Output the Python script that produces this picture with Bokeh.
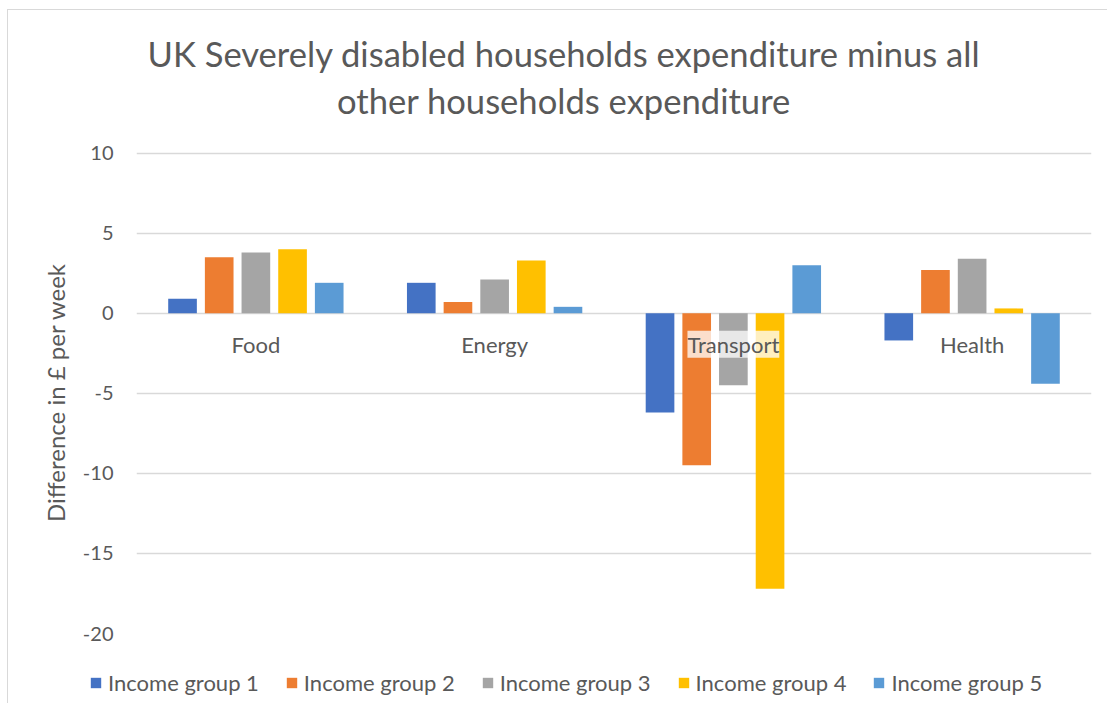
from bokeh.plotting import figure
from bokeh.layouts import column
from bokeh.models import (ColumnDataSource, Range1d, FactorRange, Legend, LegendItem,
                          LabelSet, Label, FixedTicker, PrintfTickFormatter)
from bokeh.transform import dodge
from bokeh.core.properties import value
from bokeh.embed import file_html
from bokeh.resources import INLINE

# ---- data ----
categories = ["Food", "Energy", "Transport", "Health"]
group_names = ["Income group 1", "Income group 2", "Income group 3",
               "Income group 4", "Income group 5"]
group1 = [0.9, 1.9, -6.2, -1.7]
group2 = [3.5, 0.7, -9.5, 2.7]
group3 = [3.8, 2.1, -4.5, 3.4]
group4 = [4.0, 3.3, -17.2, 0.3]
group5 = [1.9, 0.4, 3.0, -4.4]
y_ticks = [-20, -15, -10, -5, 0, 5, 10]
title_lines = ["UK Severely disabled households expenditure minus all",
               "other households expenditure"]
y_label = "Difference in £ per week"

colors = ["#4472C4", "#ED7D31", "#A5A5A5", "#FFC000", "#5B9BD5"]
FONT = "Lato"
TXT = "#595959"

series = [group1, group2, group3, group4, group5]
data = {"cat": categories, "zero": [0] * len(categories)}
for i, s in enumerate(series):
    data[f"g{i+1}"] = s
source = ColumnDataSource(data)

W = 1099
LEFT = 128

# ---- title strip ----
tf = figure(width=W, height=130, output_backend="svg", toolbar_location=None,
            min_border=0, min_border_left=LEFT, min_border_right=16,
            x_range=Range1d(0, 1), y_range=Range1d(0, 1), title=None)
tf.axis.visible = False
tf.grid.visible = False
tf.outline_line_color = None
tf.background_fill_alpha = 0
tf.border_fill_alpha = 0
for line, y in zip(title_lines, [87.5, 40.5]):
    tf.add_layout(Label(x=427.5, y=y, x_units="screen", y_units="screen", text=line,
                        text_align="center", text_baseline="middle",
                        text_font=FONT, text_font_size="34.6px", text_color=TXT))

# ---- main chart ----
p = figure(width=W, height=503, x_range=FactorRange(*categories, range_padding=0),
           y_range=Range1d(-20, 10.1), output_backend="svg", toolbar_location=None,
           min_border_left=LEFT, min_border_right=16, min_border_top=11,
           min_border_bottom=10, title=None)
p.outline_line_color = None
p.background_fill_color = "white"
p.border_fill_alpha = 0

step = 0.1536
bar_w = 0.12
renderers = []
for i in range(5):
    off = (i - 2) * step
    r = p.vbar(x=dodge("cat", off, range=p.x_range), top=f"g{i+1}", bottom=0,
               width=bar_w, source=source, fill_color=colors[i], line_color=None)
    renderers.append(r)

p.xaxis.visible = False
p.xgrid.visible = False
p.yaxis.ticker = FixedTicker(ticks=y_ticks)
p.yaxis.formatter = PrintfTickFormatter(format="%d")
p.ygrid.ticker = FixedTicker(ticks=y_ticks)
p.ygrid.grid_line_color = "#d9d9d9"
p.ygrid.grid_line_width = 1.5
p.yaxis.axis_line_color = None
p.yaxis.major_tick_line_color = None
p.yaxis.minor_tick_line_color = None
p.yaxis.major_label_text_font = FONT
p.yaxis.major_label_text_font_size = "20px"
p.yaxis.major_label_text_color = TXT
p.yaxis.major_label_standoff = 17
p.yaxis.axis_label = y_label
p.yaxis.axis_label_text_font = FONT
p.yaxis.axis_label_text_font_size = "24px"
p.yaxis.axis_label_text_font_style = "normal"
p.yaxis.axis_label_text_color = TXT
p.yaxis.axis_label_standoff = 10

cat_labels = LabelSet(x="cat", y="zero", text="cat", source=source, y_offset=-31,
                      text_align="center", text_baseline="middle",
                      text_font=value(FONT), text_font_size="22px", text_color=TXT,
                      background_fill_color="white", background_fill_alpha=0.75)
p.add_layout(cat_labels)

# ---- legend strip (same series; its bars lie outside its view) ----
SHIFT = 47
lg = figure(width=W, height=60, output_backend="svg", toolbar_location=None,
            min_border=0, min_border_left=LEFT, min_border_right=16,
            x_range=FactorRange(*categories), y_range=Range1d(1000, 1001), title=None)
lg.styles = {"margin-left": f"-{SHIFT}px"}
lg.axis.visible = False
lg.grid.visible = False
lg.outline_line_color = None
lg.background_fill_alpha = 0
lg.border_fill_alpha = 0
lg_items = []
for i, (name, c) in enumerate(zip(group_names, colors)):
    rr = lg.vbar(x="cat", top=f"g{i+1}", width=0.1, source=source,
                 fill_color=c, line_color=None)
    lg_items.append(LegendItem(label=name, renderers=[rr]))
legend = Legend(items=lg_items, orientation="horizontal", location=(0, 7),
                label_text_font=FONT, label_text_font_size="22px", label_text_color=TXT,
                glyph_width=13, glyph_height=13, label_standoff=6, spacing=26,
                padding=0, margin=0, border_line_color=None, background_fill_alpha=0,
                label_height=20)
lg.add_layout(legend, "center")

layout = column(tf, p, lg, spacing=0)
layout.styles = {"border-left": "1px solid #d9d9d9", "border-top": "1px solid #d9d9d9",
                 "margin-left": "7px", "margin-top": "9px"}

open("out.html", "w").write(file_html(layout, INLINE))
